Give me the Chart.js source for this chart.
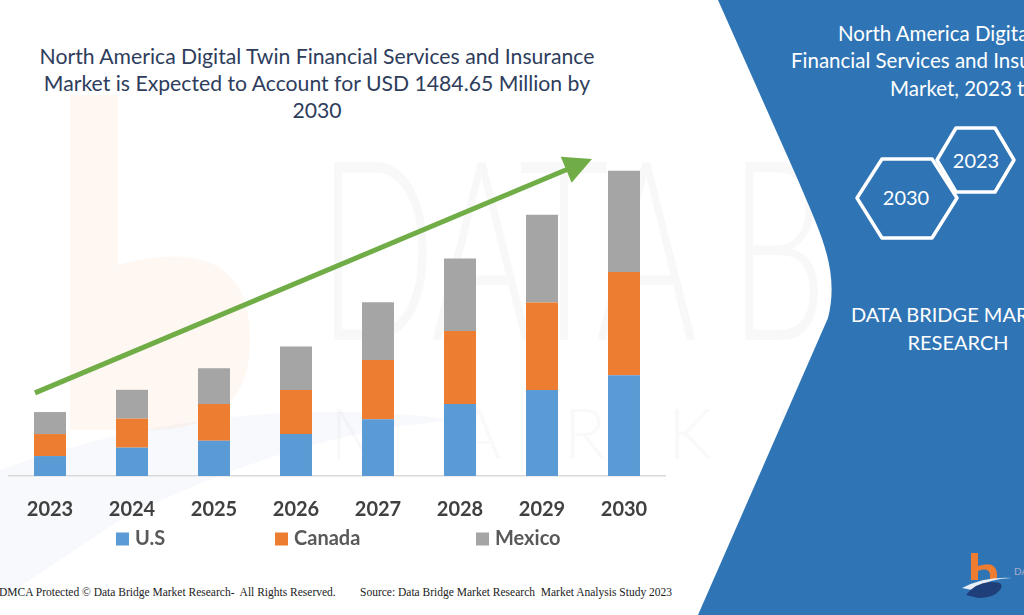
<!DOCTYPE html>
<html><head><meta charset="utf-8">
<script src="https://cdn.jsdelivr.net/npm/chart.js@4.4.1/dist/chart.umd.min.js"></script>
<style>
html,body{margin:0;padding:0;}
body{width:1024px;height:615px;overflow:hidden;position:relative;background:#fff;font-family:Lato,"Open Sans",sans-serif;}
#bg{position:absolute;left:0;top:0;z-index:0;}
#c{position:absolute;left:0;top:0;z-index:3;}
.t{position:absolute;white-space:nowrap;z-index:2;}
#title{left:-33px;width:700px;top:43px;text-align:center;font-size:21.2px;line-height:27px;color:#2e3d5c;}
.rp{color:#fff;font-size:20.5px;line-height:24px;}
.hex{color:#fff;font-size:20px;line-height:24px;text-align:center;width:80px;}
.foot{font-family:"Liberation Serif","DejaVu Serif",serif;font-size:11.5px;color:#222;top:586px;}
#wm{position:absolute;left:318px;top:118px;font-size:250px;font-weight:300;color:#000;opacity:0.022;letter-spacing:-4px;transform:scaleX(0.62);transform-origin:left top;z-index:1;white-space:nowrap;line-height:250px;}
#wm2{position:absolute;left:330px;top:390px;font-size:70px;font-weight:300;color:#000;opacity:0.02;letter-spacing:62px;z-index:1;white-space:nowrap;}
</style></head>
<body>
<svg id="bg" width="1024" height="615" viewBox="0 0 1024 615">
  <path d="M70,95 L118,95 L118,265 Q250,230 250,340 Q250,430 150,430 L70,430 Z" fill="#f7c9a8" opacity="0.15"/>
  <path d="M0,470 Q220,390 460,420 Q300,430 120,520 L0,600 Z" fill="#c7d3e6" opacity="0.13"/>
</svg>
<div id="wm">DATA BRIDGE</div>
<div id="wm2">MARKETRESEARCH</div>
<svg width="1024" height="615" viewBox="0 0 1024 615" style="position:absolute;left:0;top:0;z-index:1">
  <path d="M718,0 L798,180 C820,232 840,270 828,318 L698,615 L1024,615 L1024,0 Z" fill="#2f75b6"/>
  <path d="M882,159 L932,159 L957,198 L932,238 L882,238 L857,198 Z" fill="none" stroke="#fff" stroke-width="3.5" stroke-linejoin="round"/>
  <path d="M956,128 L995,128 L1014,160 L995,192 L956,192 L937,160 Z" fill="none" stroke="#fff" stroke-width="3.5" stroke-linejoin="round"/>
  <path d="M971,553 L978,553 L978,566 Q996,560 997,574 L997,580 L990,580 L990,574 Q988,567 978,571 L978,580 L971,580 Z" fill="#ee7d31"/>
  <path d="M962,588 Q985,576 1012,578 Q990,578 972,590 Z" fill="#e8eef7"/>
  <path d="M966,595 Q975,583 990,582 Q1006,581 1000,590 Q994,598 978,598 Z" fill="#1f3f7a"/>
  <text x="1014" y="575" font-size="10" fill="#aac" font-family="Lato">DA</text>
</svg>
<div id="title" class="t">North America Digital Twin Financial Services and Insurance<br>Market is Expected to Account for USD 1484.65 Million by<br>2030</div>
<div class="t rp" style="left:838px;top:21px">North America Digital Twin</div>
<div class="t rp" style="left:791px;top:48px">Financial Services and Insurance</div>
<div class="t rp" style="left:890px;top:76px">Market, 2023 to 2030</div>
<div class="t hex" style="left:866px;top:185px">2030</div>
<div class="t hex" style="left:936px;top:148px">2023</div>
<div class="t rp" style="left:758px;width:400px;text-align:center;top:300px;line-height:28px;font-size:20px">DATA BRIDGE MARKET<br>RESEARCH</div>
<div class="t foot" style="left:-1px">DMCA Protected © Data Bridge Market Research-&nbsp; All Rights Reserved.</div>
<div class="t foot" style="left:360px">Source: Data Bridge Market Research&nbsp; Market Analysis Study 2023</div>
<canvas id="c" width="1024" height="615"></canvas>
<script>
const categories = ['2023','2024','2025','2026','2027','2028','2029','2030'];
const seriesNames = ['U.S','Canada','Mexico'];
const usValues     = [97, 138, 172, 204, 276, 350, 418, 490];
const canadaValues = [107, 141, 178, 214, 288, 355, 426, 502];
const mexicoValues = [107, 140, 174, 212, 281, 353, 426, 493];
const seriesColors = ['#5b9bd5','#ed7d31','#a5a5a5'];
const arrowFromValue = 404;
const arrowToValue = 1542;

const legendPlugin = {
  id: 'customLegend',
  afterDraw(chart, args, opts) {
    const ctx = chart.ctx;
    ctx.save();
    ctx.font = 'bold 20px Lato, "Open Sans", sans-serif';
    ctx.textBaseline = 'middle';
    ctx.textAlign = 'left';
    chart.data.datasets.forEach((ds, i) => {
      const x = opts.xs[i];
      ctx.fillStyle = ds.backgroundColor;
      ctx.fillRect(x, opts.y - 6.5, 13, 13);
      ctx.fillStyle = '#595959';
      ctx.fillText(ds.label, x + 19, opts.y);
    });
    ctx.restore();
  }
};

const arrowPlugin = {
  id: 'trendArrow',
  afterDatasetsDraw(chart, args, opts) {
    const xs = chart.scales.x, ys = chart.scales.y, ctx = chart.ctx;
    const x0 = xs.getPixelForValue(0) - 15, y0 = ys.getPixelForValue(opts.from);
    const x1 = xs.getPixelForValue(categories.length - 1) - 32, y1 = ys.getPixelForValue(opts.to);
    const ang = Math.atan2(y1 - y0, x1 - x0);
    const hl = 28, hw = 14;
    const bx = x1 - hl * Math.cos(ang), by = y1 - hl * Math.sin(ang);
    ctx.save();
    ctx.strokeStyle = '#70ad47';
    ctx.fillStyle = '#70ad47';
    ctx.lineWidth = 5;
    ctx.beginPath();
    ctx.moveTo(x0, y0);
    ctx.lineTo(bx + 2 * Math.cos(ang), by + 2 * Math.sin(ang));
    ctx.stroke();
    ctx.beginPath();
    ctx.moveTo(x1, y1);
    ctx.lineTo(bx + hw * Math.sin(ang), by - hw * Math.cos(ang));
    ctx.lineTo(bx - hw * Math.sin(ang), by + hw * Math.cos(ang));
    ctx.closePath();
    ctx.fill();
    ctx.restore();
  }
};

const valuesBySeries = [usValues, canadaValues, mexicoValues];
new Chart(document.getElementById('c'), {
  type: 'bar',
  data: {
    labels: categories,
    datasets: seriesNames.map((n, i) => ({
      label: n,
      data: valuesBySeries[i],
      backgroundColor: seriesColors[i],
      borderWidth: 0,
      categoryPercentage: 1,
      barPercentage: 0.39
    }))
  },
  options: {
    responsive: false,
    devicePixelRatio: 1,
    animation: false,
    layout: { padding: { left: 9, right: 359, top: 147, bottom: 71 } },
    plugins: {
      legend: { display: false },
      tooltip: { enabled: false },
      customLegend: { xs: [116, 275, 476], y: 539 },
      trendArrow: { from: arrowFromValue, to: arrowToValue }
    },
    scales: {
      x: {
        stacked: true,
        grid: { display: false, drawTicks: false, tickLength: 0 },
        border: { display: true, color: '#d9d9d9', width: 1.5 },
        ticks: { padding: 22, color: '#404040', font: { family: 'Lato, "Open Sans", sans-serif', size: 20, weight: 'bold' } }
      },
      y: {
        stacked: true,
        display: false,
        min: 0,
        max: 1600
      }
    }
  },
  plugins: [legendPlugin, arrowPlugin]
});
</script>
</body></html>
